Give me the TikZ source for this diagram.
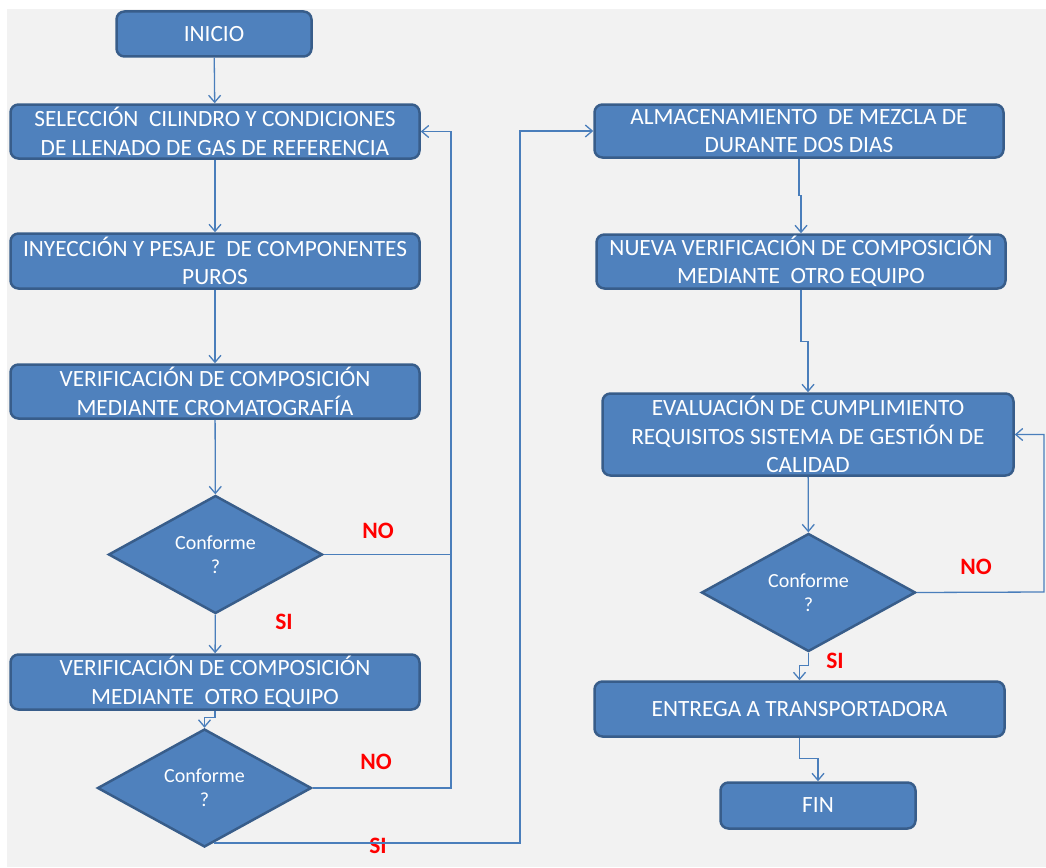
\documentclass[tikz,border=0pt]{standalone}
\usepackage{fontspec}
\setmainfont{Carlito}
\usetikzlibrary{shapes.geometric,arrows.meta}
\definecolor{boxFill}{HTML}{4F81BD}
\definecolor{boxEdge}{HTML}{385D8A}
\definecolor{linkBlue}{HTML}{4A7EBB}
\definecolor{bgGray}{HTML}{F2F2F2}
\definecolor{labelRed}{HTML}{FF0000}
\begin{document}
\begin{tikzpicture}[x=1pt, y=-1pt,
	stepbox/.style = {draw = boxEdge, fill = boxFill, line width = 2.5pt, rounded corners = 8pt,
		text = white, align = center, inner sep = 0pt, font = \fontsize{23.3}{28.5}\selectfont},
	askbox/.style = {diamond, draw = boxEdge, fill = boxFill, line width = 2.5pt, aspect = 1.8,
		text = white, align = center, inner sep = 0pt, font = \fontsize{20}{24}\selectfont,
		minimum width = 214pt, minimum height = 118pt},
	link/.style = {draw = linkBlue, line width = 1.3pt},
	linkto/.style = {link, -{Straight Barb[length = 7pt, width = 12pt]}},
	answer/.style = {text = labelRed, font = \fontsize{23.5}{26}\selectfont\bfseries}]
	\useasboundingbox (0, 0) rectangle (1046, 867);
	\fill[bgGray] (7, 9) rectangle (1046, 867);
	
	% left column
	\node[stepbox, minimum width = 195pt, minimum height = 45pt] (inicio) at (214, 34) {INICIO};
	\node[stepbox, minimum width = 409pt, minimum height = 54pt] (seleccion) at (215, 131.5) {SELECCIÓN~ CILINDRO Y CONDICIONES\\DE LLENADO DE GAS DE REFERENCIA};
	\node[stepbox, minimum width = 409pt, minimum height = 55pt] (inyeccion) at (215, 261) {INYECCIÓN Y PESAJE~ DE COMPONENTES\\PUROS};
	\node[stepbox, minimum width = 409pt, minimum height = 54pt] (cromato) at (215, 391.5) {VERIFICACIÓN DE COMPOSICIÓN\\MEDIANTE CROMATOGRAFÍA};
	\node[askbox] (conf1) at (215.5, 554.5) {Conforme\\?};
	\node[stepbox, minimum width = 409pt, minimum height = 55pt] (otroeq) at (215, 682) {VERIFICACIÓN DE COMPOSICIÓN\\MEDIANTE~ OTRO EQUIPO};
	\node[askbox] (conf2) at (204.5, 788) {Conforme\\?};
	
	% right column
	\node[stepbox, minimum width = 409pt, minimum height = 53pt] (almacen) at (799, 131) {ALMACENAMIENTO~ DE MEZCLA DE\\DURANTE DOS DIAS};
	\node[stepbox, minimum width = 409pt, minimum height = 54pt] (nueva) at (801, 261.5) {NUEVA VERIFICACIÓN DE COMPOSICIÓN\\MEDIANTE~ OTRO EQUIPO};
	\node[stepbox, minimum width = 411pt, minimum height = 82pt] (evalua) at (808, 434.5) {EVALUACIÓN DE CUMPLIMIENTO\\REQUISITOS SISTEMA DE GESTIÓN DE\\CALIDAD};
	\node[askbox] (conf3) at (808.5, 592.5) {Conforme\\?};
	\node[stepbox, minimum width = 410pt, minimum height = 55pt] (entrega) at (799.5, 709) {ENTREGA A TRANSPORTADORA};
	\node[stepbox, minimum width = 195pt, minimum height = 46pt] (fin) at (818, 805.5) {FIN};
	
	% answers
	\node[answer] (no1) at (378, 531) {NO};
	\node[answer] (si1) at (284, 622) {SI};
	\node[answer] (no2) at (376, 762) {NO};
	\node[answer] (si2) at (378, 846) {SI};
	\node[answer] (no3) at (976, 567) {NO};
	\node[answer] (si3) at (835, 661) {SI};
	
	\coordinate (loopL) at (451, 788);
	\coordinate (loopR) at (520, 843);
	\coordinate (loopE) at (1044, 592);
	
	\draw[linkto] (inicio) -- (seleccion);
	\draw[linkto] (seleccion) -- (inyeccion);
	\draw[linkto] (inyeccion) -- (cromato);
	\draw[linkto] (cromato) -- (conf1);
	\draw[linkto] (conf1) -- (otroeq);
	\draw[linkto] (otroeq.south) -- ++(0, 7) -| (conf2.north);
	\draw[link] (conf1.east) -- (conf1.east -| loopL);
	\draw[linkto] (conf2.east) -- (loopL) |- (seleccion.east);
	\draw[linkto] (conf2.-80) -- (conf2.-80 -| loopR) |- (almacen.west);
	
	\draw[linkto] (almacen.south) -- ++(0, 37) -| (nueva.north);
	\draw[linkto] (nueva.south) -- ++(0, 52) -| (evalua.north);
	\draw[linkto] (evalua) -- (conf3);
	\draw[linkto] (conf3.east) -- (loopE) |- (evalua.east);
	\draw[linkto] (conf3.south) -- ++(0, 13) -| (entrega.north);
	\draw[linkto] (entrega.south) -- ++(0, 21) -| (fin.north);
\end{tikzpicture}
\end{document}
